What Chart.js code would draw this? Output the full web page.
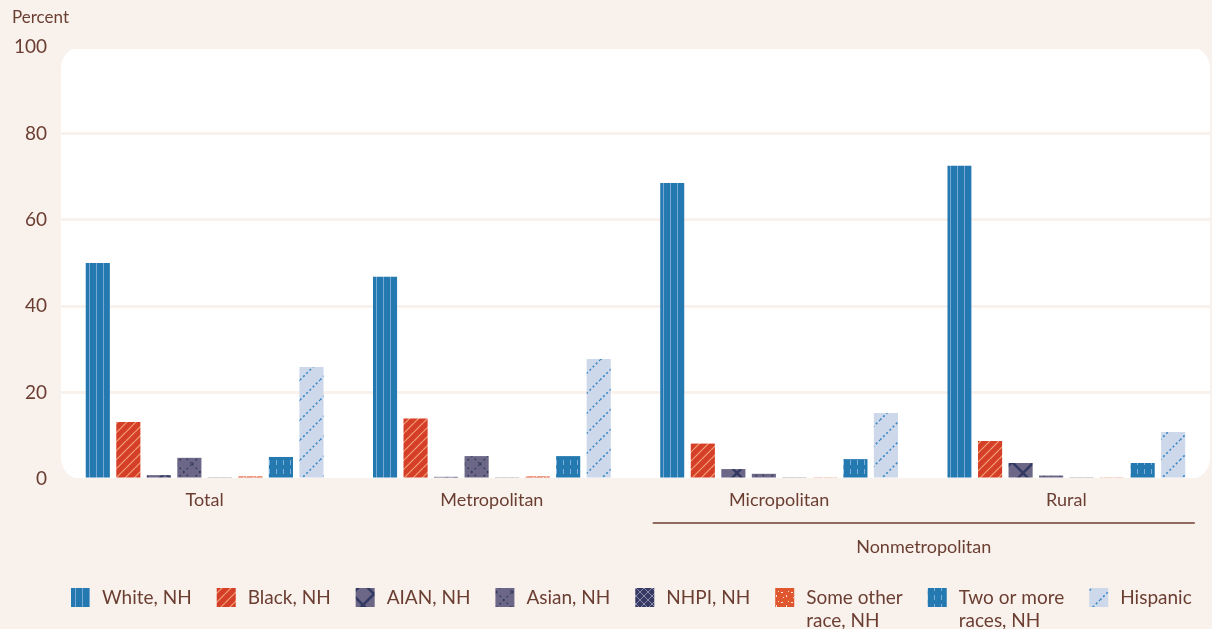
<!DOCTYPE html>
<html>
<head>
<meta charset="utf-8">
<script src="https://cdn.jsdelivr.net/npm/chart.js@4"></script>
<style>
  html, body { margin: 0; padding: 0; background: #f9f1ec; }
  #wrap { width: 1212px; height: 629px; position: relative; }
</style>
</head>
<body>
<div id="wrap"><canvas id="myChart"></canvas></div>
<script>
const categories = ["Total", "Metropolitan", "Micropolitan", "Rural"];
const seriesNames = [
  ["White, NH"],
  ["Black, NH"],
  ["AIAN, NH"],
  ["Asian, NH"],
  ["NHPI, NH"],
  ["Some other", "race, NH"],
  ["Two or more", "races, NH"],
  ["Hispanic"],
];
const white = [50.0, 46.8, 68.5, 72.5];
const black = [13.2, 14.0, 8.2, 8.8];
const aian = [0.9, 0.5, 2.3, 3.7];
const asian = [4.9, 5.3, 1.2, 0.8];
const nhpi = [0.4, 0.4, 0.4, 0.4];
const someOther = [0.6, 0.6, 0.4, 0.4];
const twoOrMore = [5.1, 5.3, 4.6, 3.7];
const hispanic = [25.9, 27.8, 15.3, 10.9];
const yTicks = [0, 20, 40, 60, 80, 100];
const groupLabel = "Nonmetropolitan";

const BG = "#f9f1ec";
const TEXT = "#6b3e32";
const FONT = "Lato";

// small tiles for the bar fills
function makePattern(w, h, bg, draw) {
  const c = document.createElement("canvas");
  c.width = w;
  c.height = h;
  const x = c.getContext("2d");
  x.fillStyle = bg;
  x.fillRect(0, 0, w, h);
  draw(x, w, h);
  return x.createPattern(c, "repeat");
}
function diag(x, w, h, up) {
  x.beginPath();
  for (const k of [-w, 0, w]) {
    if (up) { x.moveTo(k, h); x.lineTo(k + w, 0); }
    else { x.moveTo(k, 0); x.lineTo(k + w, h); }
  }
  x.stroke();
}

const fills = [
  makePattern(7, 7, "#2379b0", (x) => { x.fillStyle = "#78a7d3"; x.fillRect(5, 0, 1, 7); }),
  makePattern(9, 9, "#d63f27", (x, w, h) => { x.strokeStyle = "#f2a27c"; x.lineWidth = 1.2; diag(x, w, h, true); }),
  makePattern(22, 22, "#6c6786", (x, w, h) => { x.strokeStyle = "#323a63"; x.lineWidth = 2.6; diag(x, w, h, true); diag(x, w, h, false); }),
  makePattern(16, 16, "#6c6786", (x, w, h) => { x.strokeStyle = "#343a62"; x.lineWidth = 1.3; x.setLineDash([2, 3]); diag(x, w, h, true); diag(x, w, h, false); }),
  makePattern(8, 8, "#353963", (x, w, h) => { x.strokeStyle = "#8a8aa9"; x.lineWidth = 1; diag(x, w, h, true); diag(x, w, h, false); }),
  makePattern(10, 10, "#e0572f", (x) => {
    x.fillStyle = "#fbe3d6";
    x.fillRect(1, 2, 2, 1); x.fillRect(6, 5, 1, 2); x.fillRect(3, 7, 1, 1); x.fillRect(8, 1, 1, 1);
  }),
  makePattern(7, 9, "#2379b0", (x) => { x.fillStyle = "#80b0d8"; x.fillRect(3, 1, 1, 5); }),
  makePattern(20, 20, "#cdd8ea", (x, w, h) => { x.strokeStyle = "#3c88c7"; x.lineWidth = 1.6; x.setLineDash([2, 2.5]); diag(x, w, h, true); }),
];

const values = [white, black, aian, asian, nhpi, someOther, twoOrMore, hispanic];

const backdrop = {
  id: "backdrop",
  beforeDraw(chart) {
    const { ctx, chartArea: a } = chart;
    ctx.save();
    ctx.fillStyle = BG;
    ctx.fillRect(0, 0, chart.width, chart.height);
    ctx.fillStyle = "#ffffff";
    ctx.beginPath();
    ctx.roundRect(a.left, a.top - 1, a.right - a.left, a.bottom - a.top + 2, 22);
    ctx.fill();
    ctx.restore();
  },
  afterDraw(chart) {
    const { ctx } = chart;
    const xs = chart.scales.x;
    ctx.save();
    ctx.fillStyle = TEXT;
    ctx.font = "17px " + FONT;
    ctx.textBaseline = "middle";
    ctx.textAlign = "left";
    ctx.fillText("Percent", 12, 18);

    // Nonmetropolitan bracket under the last two groups
    const catW = xs.getPixelForValue(1) - xs.getPixelForValue(0);
    const x0 = xs.getPixelForValue(2) - 0.44 * catW;
    const x1 = xs.getPixelForValue(3) + 0.447 * catW;
    ctx.strokeStyle = TEXT;
    ctx.lineWidth = 1.5;
    ctx.beginPath();
    ctx.moveTo(x0, 523);
    ctx.lineTo(x1, 523);
    ctx.stroke();
    ctx.font = "18px " + FONT;
    ctx.textAlign = "center";
    ctx.fillText(groupLabel, (x0 + x1) / 2, 547);

    // legend
    let lx = 71;
    const top = 588;
    ctx.font = "19px " + FONT;
    ctx.textAlign = "left";
    seriesNames.forEach((lines, i) => {
      ctx.fillStyle = fills[i];
      ctx.fillRect(lx, top, 19, 19);
      ctx.fillStyle = TEXT;
      let w = 0;
      lines.forEach((t, j) => {
        ctx.fillText(t, lx + 31, top + 10 + j * 23);
        w = Math.max(w, ctx.measureText(t).width);
      });
      lx += 31 + w + 25;
    });
    ctx.restore();
  },
};

new Chart(document.getElementById("myChart"), {
  type: "bar",
  data: {
    labels: categories,
    datasets: values.map((d, i) => ({
      label: seriesNames[i].join(" "),
      data: d,
      backgroundColor: fills[i],
      borderWidth: 0,
      categoryPercentage: 0.85,
      barPercentage: 0.79,
    })),
  },
  options: {
    responsive: true,
    maintainAspectRatio: false,
    animation: false,
    events: [],
    layout: { padding: { top: 47, right: 2, left: 0, bottom: 0 } },
    plugins: { legend: { display: false }, tooltip: { enabled: false } },
    scales: {
      x: {
        grid: { display: false },
        border: { display: false },
        ticks: { color: TEXT, font: { family: FONT, size: 18 }, padding: 2 },
        afterFit(scale) { scale.height = 150; },
      },
      y: {
        min: 0,
        max: 100,
        afterBuildTicks(scale) { scale.ticks = yTicks.map((v) => ({ value: v })); },
        grid: { color: BG, lineWidth: 3, drawTicks: false },
        border: { display: false },
        ticks: { color: TEXT, font: { family: FONT, size: 19 }, padding: 14 },
        afterFit(scale) { scale.width = 61; },
      },
    },
  },
  plugins: [backdrop],
});
</script>
</body>
</html>
